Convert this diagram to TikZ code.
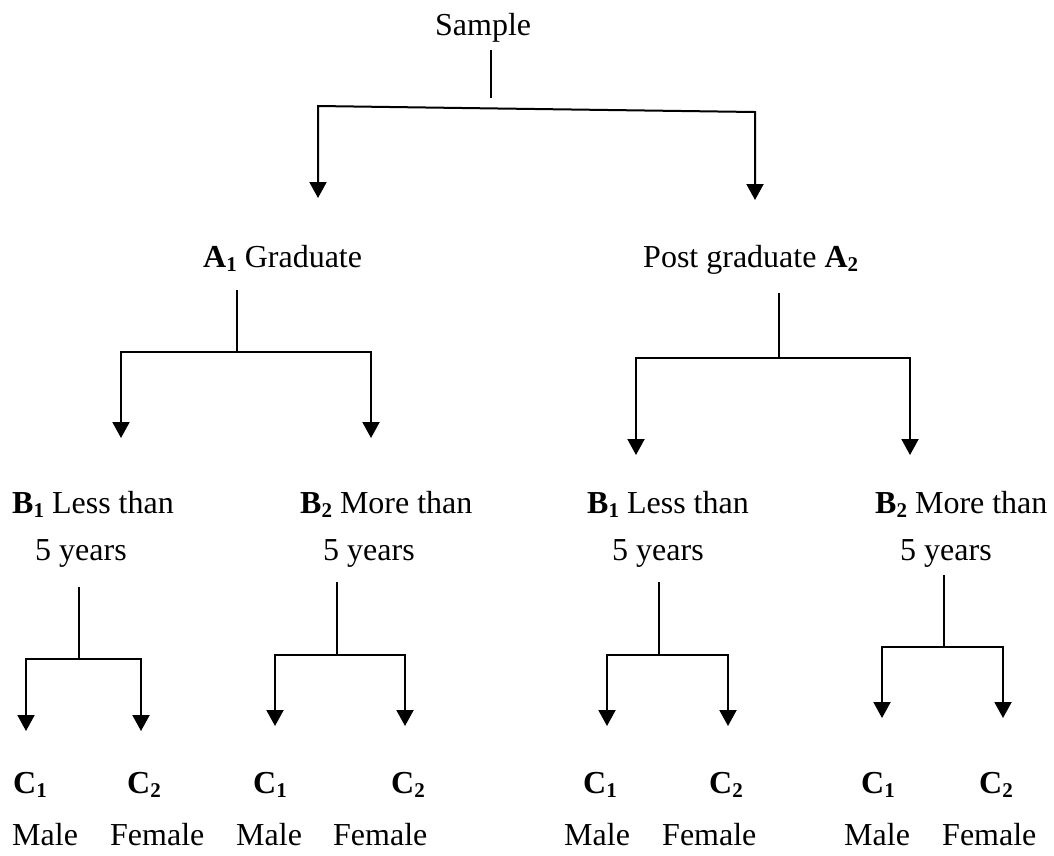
\documentclass[tikz,border=0pt]{standalone}
\usepackage{fontspec}
\setmainfont{Liberation Serif}
\usetikzlibrary{arrows.meta}
\newcommand\subx[1]{\raisebox{-4pt}{\fontsize{21}{21}\selectfont\bfseries #1}}
\newcommand\lab[2]{\textbf{#1}\subx{#2}}
\begin{document}
\begin{tikzpicture}[x=1pt,y=-1pt,
  lbl/.style={anchor=base west, inner sep=0pt, font=\fontsize{32}{38}\selectfont},
  conn/.style={line width=2pt, line join=miter},
  arr/.style={conn, -{Triangle[width=17pt,length=16pt]}}]
\useasboundingbox (0,0) rectangle (1054,855);
% text nodes
\node[lbl] (sample) at (435,35) {Sample};
\node[lbl] (a1) at (203,267) {\lab{A}{1} Graduate};
\node[lbl] (a2) at (643,267) {Post graduate \lab{A}{2}};
\node[lbl] (b11) at (12,513) {\lab{B}{1} Less than};
\node[lbl] (y11) at (35,560) {5 years};
\node[lbl] (b12) at (300,513) {\lab{B}{2} More than};
\node[lbl] (y12) at (323,560) {5 years};
\node[lbl] (b21) at (587,513) {\lab{B}{1} Less than};
\node[lbl] (y21) at (612,560) {5 years};
\node[lbl] (b22) at (875,513) {\lab{B}{2} More than};
\node[lbl] (y22) at (900,560) {5 years};
% C labels
\foreach \n/\xa/\xb/\ma/\fe in {1/13/127/12/110, 2/253/391/236/333, 3/583/709/564/662, 4/861/979/844/942}{
  \node[lbl] (c1\n) at (\xa,793) {\lab{C}{1}};
  \node[lbl] (c2\n) at (\xb,793) {\lab{C}{2}};
  \node[lbl] (m\n) at (\ma,845) {Male};
  \node[lbl] (f\n) at (\fe,845) {Female};
}
% top level
\coordinate (s0) at (491,50);
\coordinate (j0) at (491,108.4);
\coordinate (l0) at (318,106);
\coordinate (r0) at (755,112);
\coordinate (lt0) at (318,198);
\coordinate (rt0) at (755,200);
\draw[conn] (s0) -- (491,98);
\draw[arr] (j0) -- (l0) -- (lt0);
\draw[arr] (j0) -- (r0) -- (rt0);
% second level
\foreach \sx/\sy/\jy/\lx/\rx/\ty in {237/290/352/121/371/438, 779/293/358/636/910/455,
  79/587/659/26/141/731, 337/582/655/275/405/726, 659/582/655/607/728/726, 944/575/647/882/1003/718}{
  \coordinate (st) at (\sx,\sy);
  \coordinate (jn) at (\sx,\jy);
  \coordinate (bl) at (\lx,\jy);
  \coordinate (br) at (\rx,\jy);
  \coordinate (tl) at (\lx,\ty);
  \coordinate (tr) at (\rx,\ty);
  \draw[conn] (st) -- (jn);
  \draw[arr] (jn) -- (bl) -- (tl);
  \draw[arr] (jn) -- (br) -- (tr);
}
\end{tikzpicture}
\end{document}
